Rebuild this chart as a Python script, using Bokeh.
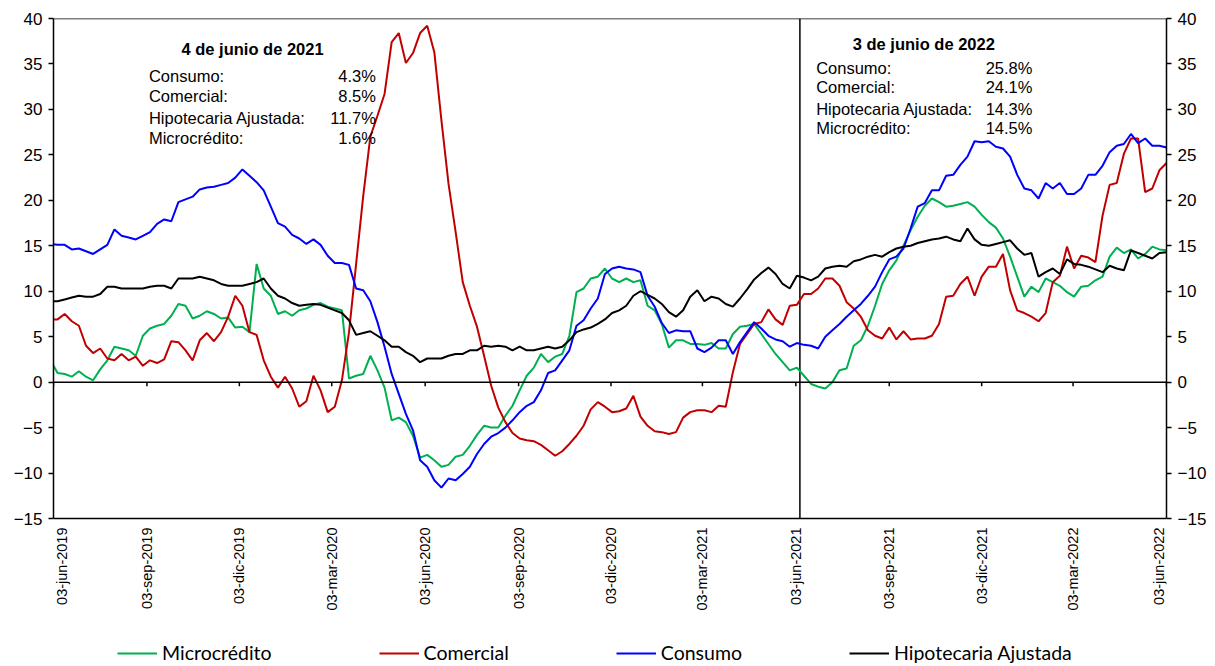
import math
import numpy as np
import pandas as pd
from bokeh.plotting import figure
from bokeh.models import (Range1d, LinearAxis, FixedTicker, Span, Label, Legend, LegendItem)
from bokeh.core.properties import value
from bokeh.embed import file_html
from bokeh.resources import INLINE

# ---------------- data ----------------
start = pd.Timestamp("2019-06-03")
dates = pd.date_range("2019-05-31", "2022-06-03", freq="7D")  # weekly (Fridays)

consumo = [15.2,
    15.1, 15.1, 14.6, 14.7, 14.4, 14.1, 14.6, 15.1, 16.8, 16.1, 15.9, 15.7, 16.1, 16.5, 17.4, 17.9, 17.7, 19.8, 20.1, 20.4, 21.2, 21.4, 21.5, 21.7, 21.9, 22.5,
    23.4, 22.7, 22.0, 21.1, 19.3, 17.5, 17.1, 16.2, 15.8, 15.2, 15.7, 15.1, 13.9, 13.1, 13.1, 12.9, 10.3, 10.1, 8.9, 6.6, 3.9, 0.9, -1.3, -3.5, -5.3, -8.6, -9.3,
    -10.8, -11.6, -10.6, -10.8, -10.1, -9.3, -7.9, -6.8, -6.0, -5.6, -5.0, -4.2, -3.3, -2.6, -2.2, -0.9, 1.0, 1.3, 2.4, 3.5, 6.2, 6.8, 8.1, 9.2, 11.9, 12.5, 12.7,
    12.5, 12.4, 12.1, 9.5, 8.3, 6.5, 5.4, 5.7, 5.6, 5.6, 3.7, 3.3, 3.8, 4.6, 4.6, 3.1, 4.4, 5.5, 6.6, 5.9, 5.1, 4.7, 4.5, 3.9, 4.3, 4.1, 4.0,
    3.7, 5.0, 5.7, 6.4, 7.2, 7.9, 8.6, 9.5, 10.5, 12.1, 13.5, 13.8, 14.7, 16.9, 19.3, 19.7, 21.1, 21.1, 22.7, 22.8, 23.9, 24.8, 26.5, 26.4, 26.5, 25.9,
    25.7, 24.8, 22.8, 21.3, 21.1, 20.2, 21.9, 21.3, 21.9, 20.7, 20.7, 21.3, 22.8, 22.8, 23.8, 25.3, 26.0, 26.2, 27.3, 26.3, 26.8, 26.0, 26.0, 25.8]

microcredito = [2.4,
    1.0, 0.9, 0.6, 1.2, 0.6, 0.2, 1.4, 2.4, 3.9, 3.7, 3.5, 2.9, 5.1, 5.9, 6.2, 6.4, 7.3, 8.6, 8.4, 7.0, 7.3, 7.8, 7.5, 7.0, 7.1, 6.0,
    6.1, 5.5, 13.0, 10.3, 9.5, 7.5, 7.8, 7.3, 7.9, 8.1, 8.5, 8.7, 8.3, 8.1, 7.9, 0.4, 0.7, 0.9, 2.9, 1.3, -0.6, -4.2, -3.9, -4.4, -5.9, -8.3, -8.0,
    -8.6, -9.3, -9.1, -8.2, -8.0, -7.0, -5.8, -4.8, -5.0, -5.0, -3.7, -2.6, -0.9, 0.7, 1.6, 3.1, 2.2, 2.8, 3.1, 5.1, 9.9, 10.3, 11.4, 11.6, 12.5, 11.4, 11.0,
    11.4, 11.0, 11.2, 8.4, 7.9, 6.4, 3.8, 4.6, 4.6, 4.2, 4.2, 4.1, 4.3, 3.7, 3.7, 5.3, 6.1, 6.2, 6.4, 5.3, 4.2, 3.1, 2.2, 1.3, 1.6, 0.7, -0.2,
    -0.5, -0.7, 0.0, 1.3, 1.5, 4.0, 4.6, 6.2, 8.4, 10.8, 12.3, 13.4, 15.0, 16.7, 18.2, 19.4, 20.2, 19.8, 19.3, 19.4, 19.6, 19.8, 19.3, 18.4, 17.6, 17.0,
    15.8, 13.8, 11.6, 9.4, 10.5, 9.9, 11.4, 11.0, 10.6, 9.9, 9.4, 10.5, 10.6, 11.2, 11.6, 13.8, 14.8, 14.2, 14.6, 13.6, 14.1, 14.9, 14.6, 14.5]

hipotecaria = [8.9,
    8.9, 9.1, 9.3, 9.5, 9.4, 9.4, 9.7, 10.5, 10.5, 10.3, 10.3, 10.3, 10.3, 10.5, 10.6, 10.6, 10.3, 11.4, 11.4, 11.4, 11.6, 11.4, 11.2, 10.8, 10.6, 10.6,
    10.6, 10.8, 11.0, 11.4, 10.3, 9.5, 9.2, 8.7, 8.4, 8.5, 8.6, 8.5, 8.2, 7.9, 7.6, 6.8, 5.2, 5.4, 5.6, 5.1, 4.6, 3.9, 3.9, 3.3, 2.9, 2.2, 2.6,
    2.6, 2.6, 2.9, 3.1, 3.1, 3.5, 3.5, 4.0, 3.9, 4.0, 3.9, 3.5, 3.9, 3.5, 3.5, 3.7, 3.9, 3.7, 3.9, 4.6, 5.5, 5.8, 6.0, 6.4, 6.9, 7.6, 7.9,
    8.4, 9.5, 10.0, 9.6, 9.2, 8.6, 7.7, 7.2, 7.9, 9.4, 10.1, 8.9, 9.4, 9.2, 8.6, 8.3, 9.2, 10.2, 11.3, 12.0, 12.6, 11.9, 10.8, 10.3, 11.7, 11.5, 11.2,
    11.6, 12.5, 12.7, 12.8, 12.7, 13.3, 13.5, 13.8, 14.0, 13.8, 14.3, 14.7, 14.9, 15.0, 15.3, 15.5, 15.7, 15.8, 16.0, 15.7, 15.5, 16.9, 15.7, 15.1, 15.0, 15.2,
    15.4, 15.6, 14.7, 14.0, 14.2, 11.6, 12.1, 12.5, 11.9, 13.5, 13.0, 12.9, 12.7, 12.4, 12.1, 12.8, 12.5, 12.3, 14.5, 14.2, 13.9, 13.6, 14.2, 14.3]

comercial = [6.9,
    6.9, 7.5, 6.7, 6.2, 4.0, 3.2, 3.7, 2.6, 2.4, 3.1, 2.4, 2.8, 1.8, 2.4, 2.1, 2.5, 4.5, 4.4, 3.5, 2.4, 4.6, 5.4, 4.5, 5.5, 7.2, 9.5,
    8.4, 5.5, 5.2, 2.4, 0.6, -0.6, 0.6, -0.7, -2.7, -2.1, 0.7, -0.9, -3.3, -2.7, 0.2, 5.5, 13.0, 20.5, 27.0, 29.3, 31.7, 37.4, 38.4, 35.1, 36.2, 38.4, 39.2,
    36.3, 28.8, 21.8, 16.5, 11.0, 8.4, 6.1, 2.9, -0.4, -2.8, -4.4, -5.6, -6.2, -6.4, -6.5, -6.9, -7.5, -8.1, -7.6, -6.8, -5.9, -4.8, -3.0, -2.2, -2.7, -3.3, -3.2,
    -2.9, -1.5, -3.8, -4.8, -5.4, -5.5, -5.7, -5.5, -3.9, -3.3, -3.1, -3.1, -3.3, -2.6, -2.7, 1.1, 4.2, 5.3, 6.4, 6.6, 8.0, 6.9, 6.3, 8.4, 8.5, 9.7, 9.7,
    10.3, 11.4, 11.4, 10.6, 8.8, 8.1, 7.2, 5.7, 5.1, 4.8, 6.0, 4.7, 5.6, 4.7, 4.8, 4.8, 5.1, 6.4, 9.4, 9.5, 10.8, 11.6, 9.5, 11.6, 12.7, 12.7,
    14.1, 10.1, 7.9, 7.6, 7.2, 6.7, 7.6, 11.0, 11.7, 14.9, 12.5, 13.9, 13.7, 13.2, 18.3, 21.7, 21.9, 25.1, 26.8, 26.8, 20.9, 21.3, 23.3, 24.1]

tick_dates = ["2019-06-03", "2019-09-03", "2019-12-03", "2020-03-03", "2020-06-03", "2020-09-03",
              "2020-12-03", "2021-03-03", "2021-06-03", "2021-09-03", "2021-12-03", "2022-03-03", "2022-06-03"]
tick_labels = ["03-jun-2019", "03-sep-2019", "03-dic-2019", "03-mar-2020", "03-jun-2020", "03-sep-2020",
               "03-dic-2020", "03-mar-2021", "03-jun-2021", "03-sep-2021", "03-dic-2021", "03-mar-2022", "03-jun-2022"]

series_names = ["Microcrédito", "Comercial", "Consumo", "Hipotecaria Ajustada"]
series_colors = ["#00B050", "#C00000", "#0000FF", "#000000"]

box_labels = ["Consumo:", "Comercial:", "Hipotecaria Ajustada:", "Microcrédito:"]
box1_title = "4 de junio de 2021"
box1_values = ["4.3%", "8.5%", "11.7%", "1.6%"]
box2_title = "3 de junio de 2022"
box2_values = ["25.8%", "24.1%", "14.3%", "14.5%"]

# --------------- figure ----------------
x = [(d - start).days for d in dates]
ticks = [(pd.Timestamp(d) - start).days for d in tick_dates]
end_day = ticks[-1]

FONT = "Liberation Sans"
Y_MIN, Y_MAX = -15, 40
PLOT_H = 500            # pixel height of the -15..40 band
EXTRA_H = 146           # room below it for date labels and legend
y_bottom = Y_MIN - EXTRA_H * (Y_MAX - Y_MIN) / PLOT_H

p = figure(frame_width=1113, frame_height=PLOT_H + EXTRA_H,
           min_border_left=53, min_border_right=41, min_border_top=18, min_border_bottom=0,
           x_range=Range1d(0, end_day), y_range=Range1d(y_bottom, Y_MAX),
           x_axis_location=None,
           output_backend="svg", toolbar_location=None, background_fill_color="white")
p.grid.visible = False
p.outline_line_color = None

# y axes (limited to -15..40)
yticks = list(range(Y_MIN, Y_MAX + 1, 5))
right_axis = LinearAxis()
p.add_layout(right_axis, "right")
for ax in (p.yaxis[0], right_axis):
    ax.bounds = (Y_MIN, Y_MAX)
    ax.ticker = FixedTicker(ticks=yticks)
    ax.major_tick_out = 5
    ax.major_tick_in = 0
    ax.minor_tick_out = 0
    ax.minor_tick_in = 0
    ax.axis_line_color = "black"
    ax.axis_line_width = 1.5
    ax.major_tick_line_width = 1.5
    ax.major_label_text_font = FONT
    ax.major_label_text_font_size = "17px"
    ax.major_label_text_color = "black"
    ax.major_label_standoff = 6

# top / bottom border and zero line
for loc in (Y_MAX, Y_MIN, 0):
    p.add_layout(Span(location=loc, dimension="width", line_color="black", line_width=1.5))

# tick marks on the zero line
p.segment(x0=ticks, y0=[0] * len(ticks), x1=ticks, y1=[-0.45] * len(ticks),
          line_color="black", line_width=1.5)

# date labels below the bottom border (edge labels nudged inward so they stay visible)
label_nudge = [0] * len(ticks)
label_nudge[0] = 8
label_nudge[-1] = -8
p.text(x=ticks, y=[Y_MIN] * len(ticks), text=tick_labels, angle=math.pi / 2,
       text_align="right", text_baseline="middle", y_offset=9, x_offset=label_nudge,
       text_font=value(FONT), text_font_size="14.5px", text_color="black")

# vertical reference line (June 2021)
p.segment(x0=[735], y0=[Y_MIN], x1=[735], y1=[Y_MAX], line_color="black", line_width=1.5)

# series
all_series = [microcredito, comercial, consumo, hipotecaria]
items = []
for name, col, vals in zip(series_names, series_colors, all_series):
    r = p.line(x, vals, line_color=col, line_width=2)
    items.append(LegendItem(label=name, renderers=[r]))

legend = Legend(items=items, orientation="horizontal", location=(64, 0),
                border_line_alpha=0, background_fill_alpha=0,
                label_text_font="Lato", label_text_font_size="19.5px",
                label_text_color="black",
                glyph_width=40, glyph_height=18, label_standoff=5, label_height=18,
                spacing=107, padding=0, margin=0)
p.add_layout(legend, "center")

# annotation boxes
def add_box(title, values, title_x, label_x, value_x, title_y, row_ys):
    p.add_layout(Label(x=title_x, y=title_y, text=title, text_font=FONT, text_font_size="16.5px",
                       text_font_style="bold", text_align="center", text_baseline="middle",
                       text_color="black"))
    for lab, val, yy in zip(box_labels, values, row_ys):
        p.add_layout(Label(x=label_x, y=yy, text=lab, text_font=FONT, text_font_size="16.5px",
                           text_align="left", text_baseline="middle", text_color="black"))
        p.add_layout(Label(x=value_x, y=yy, text=val, text_font=FONT, text_font_size="16.5px",
                           text_align="right", text_baseline="middle", text_color="black"))

add_box(box1_title, box1_values, 196, 94, 317.5, 36.7, [33.7, 31.45, 29.1, 26.9])
add_box(box2_title, box2_values, 857, 751, 964, 37.2, [34.6, 32.5, 30.1, 28.0])

open("out.html", "w").write(file_html(p, INLINE))
